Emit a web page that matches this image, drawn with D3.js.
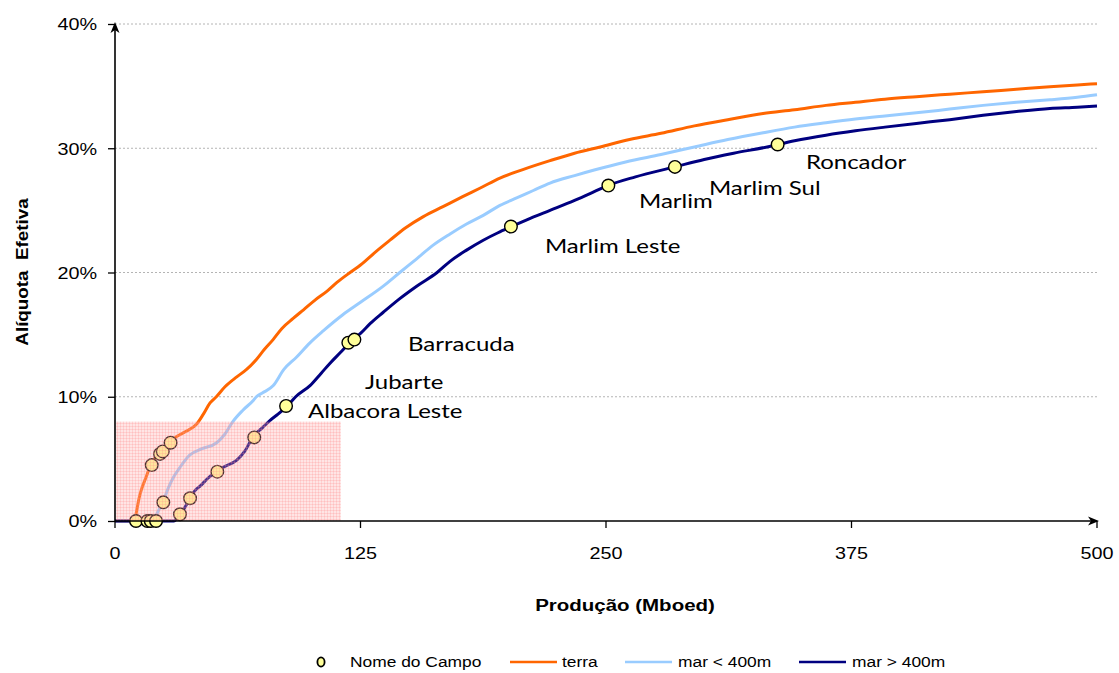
<!DOCTYPE html>
<html><head><meta charset="utf-8">
<script src="https://cdn.jsdelivr.net/npm/d3@7"></script>
<style>body{margin:0;background:#fff}svg{display:block}</style>
</head><body>
<svg id="c" width="1119" height="673"></svg>
<script>
// ---------- DATA ----------
const terra = [[0,0],[10,0],[11,0.8],[12.5,2.0],[13.6,2.6],[16,3.6],[17.8,4.4],[20,5.0],[22.9,5.4],[25,5.9],[28.3,6.4],[31.4,6.8],[36,7.2],[41.6,7.8],[45,8.6],[48.4,9.5],[51.6,10.0],[56,10.8],[62,11.6],[67,12.2],[72,13.0],[76,13.8],[80.5,14.6],[85,15.5],[90.7,16.3],[96,17.0],[102,17.8],[108,18.5],[113,19.2],[119.7,20.0],[125,20.6],[133,21.7],[140,22.6],[148,23.6],[157,24.5],[167,25.3],[177,26.1],[186,26.8],[196,27.6],[208,28.3],[221.5,29.0],[234,29.6],[247,30.1],[262,30.7],[278,31.2],[295,31.8],[312,32.3],[330,32.8],[346,33.1],[362,33.45],[377,33.7],[392,33.95],[408,34.15],[425,34.35],[442,34.55],[459,34.75],[476,34.95],[490,35.1],[500,35.2]];
const marMenor400 = [[0,0],[17,0],[19,0.2],[21,0.5],[23,1.1],[24.6,1.6],[27,2.6],[29.7,3.5],[33,4.3],[38,5.3],[44,5.8],[51.8,6.3],[56,7.0],[60,8.0],[65,8.9],[70.4,9.7],[72,10.0],[75,10.3],[80.6,10.9],[86,12.2],[92.5,13.2],[99,14.3],[106,15.3],[116,16.6],[125,17.6],[136.6,18.9],[145,20.0],[153.6,21.1],[162,22.2],[170.6,23.1],[179,23.9],[187.5,24.6],[196,25.4],[204.5,26.0],[213,26.6],[221.5,27.2],[234,27.8],[244,28.25],[260,28.9],[278,29.5],[295,30.1],[312,30.7],[330,31.25],[346,31.7],[362,32.05],[377,32.35],[392,32.6],[408,32.85],[425,33.15],[442,33.45],[459,33.7],[476,33.9],[490,34.1],[500,34.3]];
const marMaior400 = [[0,0],[30,0],[31.5,0.2],[33,0.5],[36,1.2],[38.2,1.85],[41,2.5],[43.3,2.8],[47,3.4],[51.8,4.0],[56,4.4],[62,4.9],[66,5.6],[70.4,6.8],[75,7.5],[79,8.1],[83,8.6],[87.4,9.2],[92,10.0],[99.3,10.9],[105,11.9],[109.5,12.7],[115,13.6],[119.7,14.4],[125,15.1],[130,15.9],[136.6,16.8],[145,17.9],[153.6,18.9],[164,20.0],[170.6,20.9],[179,21.8],[187.5,22.6],[195,23.2],[202,23.7],[212,24.4],[221.5,25.0],[234,25.8],[244,26.5],[251,27.0],[265,27.7],[285,28.5],[300,29.1],[315,29.6],[332,30.1],[346,30.6],[362,31.05],[377,31.4],[392,31.7],[408,32.0],[425,32.3],[442,32.65],[459,32.95],[476,33.2],[490,33.3],[500,33.4]];
const campos = [[10.7,0],[16.5,0],[18.2,0],[20.9,0],[18.7,4.5],[22.9,5.4],[24.3,5.6],[28.3,6.3],[24.6,1.5],[33.1,0.54],[38.2,1.83],[52.1,3.97],[70.9,6.73],[87.1,9.26],[118.8,14.35],[121.9,14.6],[201.6,23.7],[251.2,27.0],[285.1,28.5],[337.4,30.3]];
const nomes = ["Roncador","Marlim Sul","Marlim","Marlim Leste","Barracuda","Jubarte","Albacora Leste"];
const nomesPos = [[351.8,28.33],[302.4,26.24],[266.8,25.19],[218.9,21.57],[149.2,13.68],[127.3,10.62],[98.3,8.29]];
const regiao = {x0:0, x1:115, y0:0, y1:8};
const xTicks = [0,125,250,375,500];
const yTicks = [0,10,20,30,40];
const seriesNames = ["terra","mar < 400m","mar > 400m"];
const seriesColors = ["#FF6600","#99CCFF","#000080"];

// ---------- CHART ----------
const svg = d3.select("#c");
const SX = 1.2;
const x = d3.scaleLinear([0,500],[115,1097]);
const y = d3.scaleLinear([0,40],[521,24]);

const defs = svg.append("defs");
const pat = defs.append("pattern").attr("id","hatch").attr("patternUnits","userSpaceOnUse").attr("width",3).attr("height",3);
pat.append("rect").attr("width",3).attr("height",3).attr("fill","rgba(255,170,170,0.30)");
pat.append("rect").attr("width",3).attr("height",1).attr("fill","rgba(255,130,130,0.22)");
pat.append("rect").attr("width",1).attr("height",3).attr("fill","rgba(255,130,130,0.22)");

// gridlines
svg.append("g").selectAll("line").data(yTicks.filter(d=>d>0)).join("line")
  .attr("x1",x(0)).attr("x2",x(500)).attr("y1",d=>y(d)).attr("y2",d=>y(d))
  .attr("stroke","#b4b4b4").attr("stroke-width",1).attr("stroke-dasharray","2,2");

// lines
const line = d3.line().x(d=>x(d[0])).y(d=>y(d[1])).curve(d3.curveMonotoneX);
[terra, marMenor400, marMaior400].forEach((s,i)=>{
  svg.append("path").datum(s).attr("d",line).attr("fill","none")
    .attr("stroke",seriesColors[i]).attr("stroke-width",3).attr("stroke-linejoin","round");
});

// dots
svg.append("g").selectAll("circle").data(campos).join("circle")
  .attr("cx",d=>x(d[0])).attr("cy",d=>y(d[1])).attr("r",6.3)
  .attr("fill","#FFFF99").attr("stroke","#000").attr("stroke-width",1.4);

// hatched region
svg.append("rect").attr("x",x(regiao.x0)+1).attr("y",y(regiao.y1))
  .attr("width",x(regiao.x1)-x(regiao.x0)-1).attr("height",y(regiao.y0)-y(regiao.y1))
  .attr("fill","url(#hatch)");

// axes
const yAxis = svg.append("g").attr("transform",`translate(${x(0)},0)`)
  .call(d3.axisLeft(y).tickValues(yTicks).tickFormat(d=>d+"%").tickSize(7).tickSizeOuter(0));
yAxis.select(".domain").remove();
yAxis.selectAll("line").attr("stroke","#000").attr("stroke-width",1.3);
yAxis.selectAll("text").attr("x",-18/SX).attr("dy","0.36em").attr("transform",`scale(${SX},1)`)
  .attr("font-family","'Liberation Sans',Arial,sans-serif").attr("font-size",16.5).attr("fill","#000");

const xAxis = svg.append("g").attr("transform",`translate(0,${y(0)})`)
  .call(d3.axisBottom(x).tickValues(xTicks).tickSize(7).tickSizeOuter(0));
xAxis.select(".domain").remove();
xAxis.selectAll("line").attr("stroke","#000").attr("stroke-width",1.3);
xAxis.selectAll("text").attr("y",32).attr("dy","0.36em").attr("transform",`scale(${SX},1)`)
  .attr("font-family","'Liberation Sans',Arial,sans-serif").attr("font-size",16.5).attr("fill","#000");
xAxis.selectAll(".tick").attr("transform",d=>`translate(${x(d)},0)`);

// axis lines + arrows
svg.append("line").attr("x1",x(0)).attr("x2",x(0)).attr("y1",y(0)).attr("y2",y(40)+4).attr("stroke","#000").attr("stroke-width",1.6);
svg.append("line").attr("x1",x(0)).attr("x2",x(500)-4).attr("y1",y(0)).attr("y2",y(0)).attr("stroke","#000").attr("stroke-width",1.6);
svg.append("path").attr("d",`M${x(0)},${y(40)-2} l-4.5,11 l4.5,-3 l4.5,3 Z`).attr("fill","#000");
svg.append("path").attr("d",`M${x(500)+2},${y(0)} l-11,-4.5 l3,4.5 l-3,4.5 Z`).attr("fill","#000");

// axis titles
svg.append("text").attr("transform",`translate(625,611) scale(1.22,1)`).attr("text-anchor","middle")
  .attr("font-family","'Liberation Sans',Arial,sans-serif").attr("font-weight","bold").attr("font-size",16.8)
  .text("Produção (Mboed)");
svg.append("text").attr("transform",`translate(28,272) rotate(-90) scale(1.12,1)`).attr("text-anchor","middle")
  .attr("font-family","'Liberation Sans',Arial,sans-serif").attr("font-weight","bold").attr("font-size",16.8)
  .attr("xml:space","preserve").text("Alíquota  Efetiva");

// field labels
svg.append("g").selectAll("text").data(nomes).join("text")
  .attr("transform",(d,i)=>`translate(${x(nomesPos[i][0])},${y(nomesPos[i][1])}) scale(${SX},1)`)
  .attr("font-family","Lato,'Open Sans',sans-serif").attr("font-size",20).attr("fill","#000")
  .text(d=>d);

// legend
const lg = svg.append("g").attr("font-family","'Liberation Sans',Arial,sans-serif").attr("font-size",14.5);
const LY = 662;
lg.append("ellipse").attr("cx",321).attr("cy",LY).attr("rx",3.6).attr("ry",4.6)
  .attr("fill","#FFFF99").attr("stroke","#000").attr("stroke-width",1.8);
lg.append("text").attr("transform",`translate(350,${LY+5}) scale(${SX},1)`).text("Nome do Campo");
const legX = [[510,557,562],[625,672,678],[799,846,852]];
seriesNames.forEach((n,i)=>{
  lg.append("line").attr("x1",legX[i][0]).attr("x2",legX[i][1]).attr("y1",LY).attr("y2",LY)
    .attr("stroke",seriesColors[i]).attr("stroke-width",2.5);
  lg.append("text").attr("transform",`translate(${legX[i][2]},${LY+5}) scale(${SX},1)`).text(n);
});
</script>
</body></html>
